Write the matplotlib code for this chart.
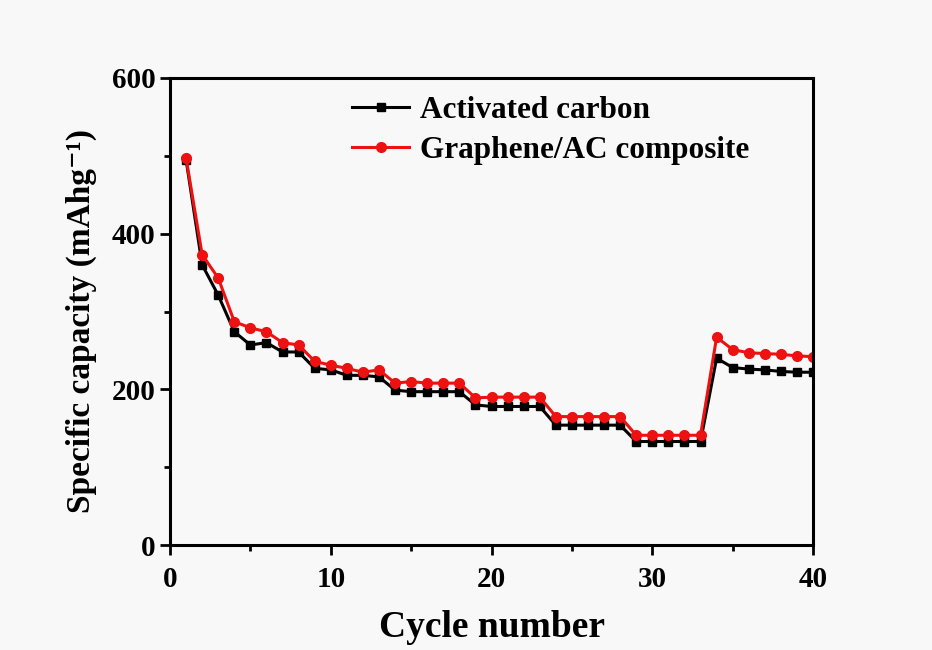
import matplotlib.pyplot as plt
from matplotlib.ticker import MultipleLocator

cycles = list(range(1, 41))
activated_carbon = [495, 360, 321, 274, 257, 260, 248, 248, 227, 225,
                    218, 218, 216, 199, 197, 197, 197, 197, 180, 178,
                    178, 178, 178, 154, 154, 154, 154, 154, 133, 133,
                    133, 133, 133, 240, 228, 226, 225, 223, 222, 222]
graphene_ac = [497, 373, 343, 287, 279, 274, 260, 257, 236, 231,
               227, 222, 225, 208, 210, 208, 208, 208, 189, 190,
               190, 190, 190, 165, 165, 165, 165, 165, 141, 141,
               141, 141, 141, 267, 251, 247, 246, 245, 243, 242]

plt.rcParams['font.family'] = ['Liberation Serif', 'DejaVu Serif']
plt.rcParams['font.weight'] = 'bold'

fig = plt.figure(figsize=(9.32, 6.5), dpi=100, facecolor='#f8f8f8')
ax = fig.add_axes([0.1824, 0.1615, 0.69, 0.7185])
ax.set_facecolor('#f8f8f8')

ax.plot(cycles, activated_carbon, color='black', marker='s', markersize=6,
        linewidth=2.2, label='Activated carbon')
ax.plot(cycles, graphene_ac, color='#ee1111', marker='o', markersize=7,
        linewidth=2.2, label='Graphene/AC composite')

ax.set_xlim(0, 40)
ax.set_ylim(0, 600)
ax.xaxis.set_major_locator(MultipleLocator(10))
ax.xaxis.set_minor_locator(MultipleLocator(5))
ax.yaxis.set_major_locator(MultipleLocator(200))
ax.yaxis.set_minor_locator(MultipleLocator(100))
ax.tick_params(which='major', direction='out', length=7, width=2, labelsize=21)
ax.tick_params(axis='x', which='major', pad=8)
ax.tick_params(which='minor', direction='out', length=4, width=2)
for spine in ax.spines.values():
    spine.set_linewidth(2.2)

ax.set_xlabel('Cycle number', fontsize=27, fontweight='bold', labelpad=12)
ax.set_ylabel('Specific capacity (mAhg\u207b\u00b9)', fontsize=24,
              fontweight='bold')
ax.yaxis.set_label_coords(-0.113, 0.48)

ax.legend(loc='upper left', bbox_to_anchor=(0.24, 1.022), frameon=False,
          fontsize=22.5, handlelength=1.8, handletextpad=0.35, labelspacing=0.35)

fig.savefig('out.png', dpi=100, facecolor=fig.get_facecolor())
